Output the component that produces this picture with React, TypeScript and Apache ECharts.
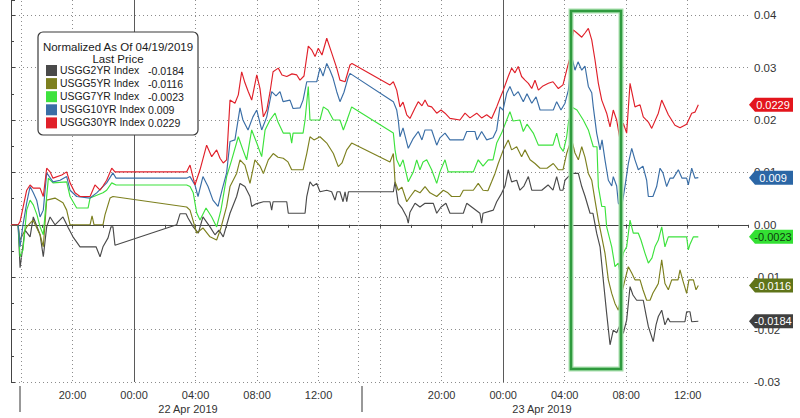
import React, { useEffect, useRef } from "react";
import * as echarts from "echarts";

// x values: session hours counted from 21 Apr 2019 16:00 (Bloomberg intraday axis)
const X_MAX = 47.92;
const seriesNames = ["USGG2YR Index", "USGG5YR Index", "USGG7YR Index", "USGG10YR Index", "USGG30YR Index"];
const lastValues = [-0.0184, -0.0116, -0.0023, 0.009, 0.0229];
const lastLabels = ["-0.0184", "-0.0116", "-0.0023", "0.009", "0.0229"];
const lineColors = ["#4a4a4a", "#7d801f", "#3de23d", "#3a6ea6", "#e0202a"];
const tagColors = ["#3f3f3f", "#5f7419", "#33e033", "#2b66a5", "#e3151c"];
const tagTextColors = ["#ffffff", "#ffffff", "#0f3a0f", "#ffffff", "#ffffff"];
const timeTickLabels = ["", "20:00", "00:00", "04:00", "08:00", "12:00", "", "20:00", "00:00", "04:00", "08:00", "12:00"];
const dateLabels = ["22 Apr 2019", "23 Apr 2019"];
const dayStartHours = [8, 32];
const sessionBreakHours = [0.65, 22.56];

const usgg2yr: [number, number][] = [
  [0, 0], [0.46, 0], [0.59, -0.0082], [0.91, -0.001], [1.24, -0.0023], [1.45, 0.0015], [1.89, -0.0019],
  [2.1, -0.0061], [2.32, -0.0004], [2.54, 0.0015], [2.86, 0], [3.38, 0.0015], [3.73, -0.0006], [4.03, -0.0023],
  [4.49, -0.0042], [5.53, -0.0042], [5.79, -0.0061], [5.98, -0.0042], [6.31, -0.0025], [6.5, -0.0004],
  [6.63, -0.0004], [6.76, -0.0039], [10.77, 0], [10.99, 0.0021], [11.38, 0.0021], [11.51, 0.0013],
  [11.85, -0.0004], [12.18, -0.0016], [12.48, 0.0015], [12.94, -0.0004], [13.26, -0.0019], [13.52, -0.001],
  [13.8, -0.0023], [14.24, 0.0022], [14.67, 0.0054], [14.89, 0.0079], [15.21, 0.0073], [15.54, 0.0054],
  [15.65, 0.0035], [15.93, 0.004], [16.41, 0.0044], [16.84, 0.0044], [16.95, 0.0028], [17.04, 0.0044],
  [17.93, 0.0044], [18.03, 0.0022], [19.12, 0.0022], [19.23, 0.0054], [19.44, 0.0082], [19.64, 0.0074],
  [19.88, 0.0079], [20.09, 0.0063], [20.53, 0.0066], [20.85, 0.0063], [21.07, 0.0047], [21.2, 0.0063],
  [21.39, 0.0063], [21.59, 0.0044], [21.72, 0.0063], [21.83, 0.0044], [21.94, 0.0063], [24.86, 0.0063],
  [24.97, 0.0082], [25.18, 0.0041], [25.42, 0.0032], [25.73, 0.0015], [25.83, 0.0003], [25.94, 0.0024],
  [26.27, 0.0041], [26.59, 0.0034], [26.92, 0.0041], [27.46, 0.0041], [27.68, 0.0022], [27.96, 0.0034],
  [28.28, 0.0041], [28.54, 0.0022], [29.41, 0.0022], [29.63, 0.0041], [30.04, 0.0032], [30.49, 0.0022],
  [30.6, 0.0003], [30.69, 0.0022], [31.36, 0.0028], [31.58, 0.0044], [31.9, 0.006], [32.12, 0.0074],
  [32.33, 0.0105], [32.55, 0.0082], [32.88, 0.0085], [33.09, 0.0066], [33.35, 0.0074], [33.64, 0.0092],
  [33.86, 0.0066], [34.51, 0.0066], [34.92, 0.0076], [35.24, 0.0066], [35.48, 0.0092], [35.7, 0.0066],
  [35.89, 0.0066], [36.02, 0.0085], [36.24, 0.0092], [36.46, 0.0098], [36.89, 0.0098], [37.11, 0.0073],
  [37.32, 0.0055], [37.65, 0.0022], [37.84, 0.0022], [38.08, -0.0016], [38.3, -0.0042], [38.51, -0.0105],
  [38.73, -0.0169], [38.95, -0.0229], [39.16, -0.0201], [39.38, -0.0206], [39.6, -0.0191], [39.81, -0.0207],
  [40.03, -0.0182], [40.25, -0.0118], [40.44, -0.0134], [40.68, -0.0144], [41.11, -0.0144], [41.29, -0.0172],
  [41.44, -0.0194], [41.76, -0.0223], [41.94, -0.0191], [42.09, -0.0175], [42.31, -0.0163], [42.52, -0.0191],
  [42.72, -0.0178], [42.85, -0.0185], [43.82, -0.0185], [43.93, -0.0166], [44.15, -0.0166], [44.26, -0.0185],
  [44.69, -0.0184],
];

const usgg5yr: [number, number][] = [
  [0, 0], [0.46, 0], [0.59, -0.0029], [1.02, -0.0004], [1.43, 0.0009], [1.89, -0.0019], [2.1, -0.0042],
  [2.32, 0.0047], [2.86, 0.0051], [3.38, 0.0042], [3.62, 0.0028], [3.84, 0], [5.14, 0], [5.27, 0.0017],
  [5.4, 0], [5.98, 0], [6.11, 0.0019], [6.44, 0.0051], [6.63, 0.0054], [11.42, 0.0034], [11.64, 0.0028],
  [11.83, 0.0009], [12.07, -0.0016], [12.48, -0.0006], [12.94, -0.0023], [13.37, -0.0029], [13.65, -0.0006],
  [14.02, 0.0035], [14.24, 0.0073], [14.67, 0.0098], [14.89, 0.0124], [15.21, 0.0114], [15.54, 0.0079],
  [15.86, 0.0124], [16.19, 0.0112], [16.41, 0.0098], [16.73, 0.0124], [17.05, 0.0136], [17.36, 0.0129],
  [17.7, 0.0127], [18.01, 0.012], [18.25, 0.0105], [18.99, 0.0105], [19.23, 0.0136], [19.44, 0.0168],
  [19.7, 0.0162], [20.09, 0.0168], [20.53, 0.0156], [20.96, 0.0136], [21.28, 0.0111], [21.52, 0.0118],
  [21.83, 0.0143], [22.15, 0.0156], [24.64, 0.012], [24.86, 0.0136], [24.97, 0.0082], [25.18, 0.0066],
  [25.42, 0.0072], [25.73, 0.0044], [25.94, 0.0053], [26.27, 0.0066], [26.59, 0.0061], [26.92, 0.0073],
  [27.24, 0.0061], [27.68, 0.0054], [28.11, 0.0066], [28.41, 0.0061], [28.65, 0.0054], [29.19, 0.0054],
  [29.41, 0.0066], [30.06, 0.0066], [30.38, 0.0079], [30.69, 0.0066], [31.01, 0.0065], [31.25, 0.0082],
  [31.47, 0.0098], [31.68, 0.0117], [32.01, 0.0143], [32.33, 0.0162], [32.55, 0.0143], [32.88, 0.0149],
  [33.2, 0.013], [33.42, 0.0143], [33.75, 0.0124], [34.07, 0.0117], [34.4, 0.0108], [34.85, 0.0108],
  [35.26, 0.0117], [35.59, 0.0105], [35.89, 0.0105], [36.13, 0.0136], [36.35, 0.0156], [36.46, 0.0162],
  [36.67, 0.0137], [36.89, 0.0124], [37.11, 0.0149], [37.32, 0.0129], [37.54, 0.0098], [37.76, 0.0085],
  [37.97, 0.0047], [38.19, 0.0009], [38.41, -0.0023], [38.62, -0.0054], [38.84, -0.0105], [39.06, -0.0131],
  [39.27, -0.015], [39.49, -0.0163], [39.71, -0.0131], [39.92, -0.0105], [40.14, -0.008], [40.36, -0.0092],
  [40.57, -0.0105], [40.9, -0.0105], [41.09, -0.0124], [41.33, -0.0144], [41.55, -0.0144], [41.74, -0.013],
  [41.98, -0.0118], [42.09, -0.0112], [42.31, -0.0067], [42.52, -0.0112], [42.74, -0.0124], [42.96, -0.0105],
  [43.37, -0.0105], [43.5, -0.0086], [43.69, -0.0107], [43.93, -0.0131], [44.08, -0.0105], [44.37, -0.0105],
  [44.54, -0.0124], [44.69, -0.0116],
];

const usgg7yr: [number, number][] = [
  [0, 0], [0.46, 0], [0.59, -0.0061], [0.78, -0.0048], [1.02, 0.0028], [1.24, 0.0047], [1.45, 0.0038],
  [1.69, 0.0019], [1.89, -0.0004], [2.1, -0.0019], [2.21, 0.0019], [2.43, 0.0089], [2.73, 0.008],
  [3.62, 0.0082], [3.84, 0.0054], [4.27, 0.0032], [5.01, 0.0032], [5.14, 0.0051], [5.98, 0.0061],
  [6.22, 0.0066], [6.55, 0.008], [6.83, 0.0076], [11.42, 0.0076], [11.64, 0.0073], [11.85, 0.0061],
  [12.07, 0.0023], [12.29, 0.0009], [12.68, 0.0032], [13.05, 0.0015], [13.37, -0.0004], [13.65, 0.0028],
  [14.02, 0.0092], [14.35, 0.0124], [14.78, 0.0168], [15.08, 0.0143], [15.32, 0.0124], [15.65, 0.0181],
  [15.98, 0.0156], [16.3, 0.013], [16.52, 0.0181], [16.84, 0.02], [17.17, 0.0213], [17.36, 0.0196],
  [17.7, 0.0175], [18.14, 0.0175], [18.25, 0.0156], [18.34, 0.0175], [18.99, 0.0175], [19.12, 0.02],
  [19.33, 0.0264], [19.44, 0.02], [20.09, 0.02], [20.31, 0.0225], [20.61, 0.0219], [20.96, 0.02],
  [21.39, 0.02], [21.61, 0.0181], [21.85, 0.02], [22.15, 0.0225], [24.86, 0.0175], [24.97, 0.0143],
  [25.08, 0.0124], [25.29, 0.0111], [25.49, 0.0124], [25.83, 0.0082], [26.16, 0.0101], [26.38, 0.0124],
  [26.59, 0.0105], [26.79, 0.012], [27.03, 0.0124], [27.35, 0.0105], [27.68, 0.0079], [27.89, 0.0101],
  [28.22, 0.0124], [28.43, 0.0101], [30.06, 0.0101], [30.38, 0.0124], [30.69, 0.0112], [31.03, 0.0124],
  [31.34, 0.0124], [31.58, 0.0156], [31.9, 0.0175], [32.23, 0.02], [32.44, 0.0216], [32.64, 0.0198],
  [33.09, 0.02], [33.31, 0.0178], [33.55, 0.0192], [33.96, 0.0175], [34.29, 0.0152], [35.24, 0.0152],
  [35.48, 0.0175], [35.7, 0.0149], [35.91, 0.014], [36.13, 0.0168], [36.24, 0.0194], [36.46, 0.0225],
  [36.8, 0.0219], [37.21, 0.02], [37.54, 0.0181], [37.86, 0.0149], [38.1, 0.0149], [38.19, 0.0073],
  [38.41, 0.0035], [38.62, 0.0035], [38.73, -0.0004], [39.06, -0.0042], [39.27, -0.008], [39.49, -0.0073],
  [39.6, -0.0093], [39.81, -0.0054], [40.03, -0.0042], [40.25, 0.0009], [40.46, -0.0016], [40.79, -0.0016],
  [40.96, -0.0029], [41.22, -0.0054], [41.44, -0.0073], [41.68, -0.0063], [41.87, -0.0042], [42.09, -0.0029],
  [42.31, -0.0004], [42.52, -0.0042], [42.74, -0.0023], [43.93, -0.0023], [44.04, -0.0048], [44.15, -0.0037],
  [44.37, -0.0023], [44.69, -0.0023],
];

const usgg10yr: [number, number][] = [
  [0, 0], [0.46, 0], [0.59, -0.0042], [0.78, 0], [1.02, 0.0042], [1.24, 0.0073], [1.45, 0.0061],
  [1.67, 0.0047], [1.89, 0.0015], [2.1, 0.0028], [2.32, 0.0099], [2.73, 0.0082], [3.19, 0.0085],
  [3.62, 0.0092], [3.84, 0.0066], [4.27, 0.0054], [5.14, 0.0051], [5.57, 0.0061], [6.22, 0.008],
  [6.63, 0.0099], [6.83, 0.0089], [11.42, 0.0089], [11.64, 0.0092], [11.96, 0.0076], [12.16, 0.0054],
  [12.48, 0.0092], [12.81, 0.0073], [13.13, 0.0047], [13.46, 0.0035], [13.72, 0.0066], [14.02, 0.0099],
  [14.24, 0.0159], [14.56, 0.0162], [14.89, 0.0223], [15.08, 0.02], [15.41, 0.0181], [15.73, 0.0206],
  [15.98, 0.0219], [16.3, 0.0181], [16.63, 0.0206], [16.95, 0.0254], [17.23, 0.0246], [17.49, 0.0254],
  [17.69, 0.0235], [18.14, 0.0238], [18.34, 0.0222], [18.79, 0.0223], [18.99, 0.0238], [19.23, 0.0273],
  [19.88, 0.0273], [20.09, 0.0299], [20.29, 0.0284], [20.53, 0.0308], [20.74, 0.0295], [20.94, 0.028],
  [21.18, 0.0254], [21.39, 0.0235], [21.65, 0.0253], [21.91, 0.028], [22.04, 0.0289], [24.86, 0.0235],
  [25.08, 0.0219], [25.18, 0.02], [25.29, 0.0168], [25.49, 0.0185], [25.83, 0.0146], [26.16, 0.0165],
  [26.48, 0.0178], [26.72, 0.0162], [26.92, 0.0181], [27.35, 0.0181], [27.68, 0.0152], [27.89, 0.0166],
  [28.22, 0.0175], [28.54, 0.0162], [29.41, 0.0162], [29.63, 0.0178], [30.17, 0.0178], [30.3, 0.0162],
  [30.6, 0.0178], [30.93, 0.0162], [31.34, 0.0166], [31.58, 0.0181], [31.79, 0.0225], [31.99, 0.0219],
  [32.23, 0.0251], [32.44, 0.0264], [32.7, 0.0246], [32.98, 0.0254], [33.31, 0.0235], [33.55, 0.025],
  [33.86, 0.0232], [34.14, 0.0244], [34.4, 0.0219], [35.26, 0.0219], [35.48, 0.0235], [35.76, 0.0219],
  [36.02, 0.0232], [36.24, 0.0257], [36.46, 0.0321], [36.67, 0.0295], [36.87, 0.0311], [37.11, 0.0295],
  [37.32, 0.0303], [37.54, 0.0264], [37.76, 0.0252], [37.86, 0.0225], [38.08, 0.0175], [38.3, 0.0143],
  [38.43, 0.0162], [38.62, 0.0124], [38.84, 0.0085], [39.06, 0.0074], [39.16, 0.0092], [39.38, 0.0074],
  [39.49, 0.0041], [39.71, 0.0035], [39.92, 0.0073], [40.14, 0.0117], [40.36, 0.0146], [40.57, 0.0124],
  [40.79, 0.0105], [41.09, 0.0112], [41.33, 0.0085], [41.44, 0.0054], [41.74, 0.0054], [41.98, 0.0073],
  [42.2, 0.0108], [42.39, 0.0099], [42.63, 0.0073], [42.85, 0.0089], [43.06, 0.0089], [43.39, 0.0105],
  [43.63, 0.0089], [43.93, 0.0089], [44.04, 0.0076], [44.26, 0.0108], [44.47, 0.0089], [44.69, 0.009],
];

const usgg30yr: [number, number][] = [
  [0, 0], [0.46, 0], [0.59, 0.0006], [1.02, 0.0066], [1.24, 0.0076], [1.45, 0.007], [1.89, 0.007],
  [2.1, 0.0054], [2.32, 0.0108], [2.54, 0.0101], [2.73, 0.0089], [3.3, 0.0095], [3.62, 0.0101],
  [3.84, 0.008], [4.16, 0.0061], [4.49, 0.0054], [5.14, 0.0054], [5.46, 0.0076], [5.79, 0.0066],
  [5.98, 0.0074], [6.22, 0.0085], [6.55, 0.0108], [6.76, 0.0101], [11.42, 0.0101], [11.64, 0.0114],
  [11.96, 0.0076], [12.29, 0.0105], [12.72, 0.0152], [13.05, 0.013], [13.37, 0.0143], [13.59, 0.0127],
  [13.8, 0.0118], [14.02, 0.0124], [14.24, 0.0238], [14.56, 0.0232], [14.78, 0.0248], [15.0, 0.0292],
  [15.21, 0.0271], [15.43, 0.0254], [15.65, 0.0238], [15.98, 0.0286], [16.19, 0.026], [16.41, 0.0206],
  [16.63, 0.0219], [16.84, 0.0253], [17.04, 0.0292], [17.38, 0.0299], [17.62, 0.0286], [17.93, 0.0283],
  [18.27, 0.0288], [18.58, 0.0286], [18.79, 0.0276], [19.05, 0.0284], [19.33, 0.0341], [19.55, 0.0334],
  [19.77, 0.0321], [19.98, 0.0337], [20.22, 0.0324], [20.53, 0.0356], [20.85, 0.0328], [21.18, 0.0299],
  [21.39, 0.0276], [21.72, 0.0273], [22.04, 0.0305], [22.17, 0.0308], [24.64, 0.0267], [24.86, 0.0273],
  [25.08, 0.0257], [25.29, 0.0225], [25.49, 0.0234], [25.73, 0.021], [25.94, 0.0203], [26.27, 0.0223],
  [26.48, 0.0235], [26.72, 0.0227], [26.92, 0.0238], [27.11, 0.0227], [27.35, 0.0225], [27.68, 0.0213],
  [27.96, 0.0219], [28.22, 0.0213], [28.54, 0.0203], [29.19, 0.02], [29.52, 0.0213], [29.84, 0.0204],
  [30.28, 0.0213], [30.6, 0.0204], [30.93, 0.021], [31.25, 0.0203], [31.58, 0.0225], [31.79, 0.0241],
  [32.01, 0.0257], [32.33, 0.0283], [32.55, 0.0299], [32.77, 0.029], [32.98, 0.0302], [33.2, 0.0283],
  [33.42, 0.0276], [33.64, 0.027], [33.86, 0.026], [34.07, 0.0276], [34.29, 0.0257], [34.59, 0.0265],
  [34.94, 0.027], [35.24, 0.0273], [35.59, 0.026], [35.89, 0.0267], [36.13, 0.0295], [36.35, 0.032],
  [36.56, 0.0372], [36.8, 0.0366], [37.11, 0.0358], [37.32, 0.0366], [37.54, 0.0375], [37.76, 0.0353],
  [37.97, 0.0315], [38.19, 0.027], [38.41, 0.0238], [38.73, 0.0213], [38.95, 0.0187], [39.16, 0.0219],
  [39.38, 0.02], [39.6, 0.0162], [39.81, 0.0194], [40.03, 0.0175], [40.25, 0.027], [40.57, 0.0225],
  [40.9, 0.0229], [41.11, 0.0206], [41.44, 0.0196], [41.66, 0.0184], [42.09, 0.0213], [42.31, 0.0238],
  [42.74, 0.021], [43.17, 0.019], [43.5, 0.0185], [43.93, 0.0192], [44.26, 0.0213], [44.47, 0.0215],
  [44.69, 0.0229],
];

const seriesData = [usgg2yr, usgg5yr, usgg7yr, usgg10yr, usgg30yr];

const FONT = "Liberation Sans, Arial, sans-serif";
const gridDots = { color: "#8c8c8c", width: 1, type: [1, 3] as any };

function buildOption(): any {
  const series = seriesNames.map((name, i) => {
    const s: any = {
      name,
      type: "line",
      data: seriesData[i],
      showSymbol: false,
      symbol: "none",
      color: lineColors[i],
      lineStyle: { width: 1.15, color: lineColors[i] },
      emphasis: { disabled: true },
      z: 2 + i,
      markPoint: {
        silent: true,
        animation: false,
        symbol: "path://M0,6.5 L6,0 L44,0 L44,13 L6,13 Z",
        symbolSize: [44, 14],
        symbolKeepAspect: false,
        symbolOffset: [23, 0],
        itemStyle: { color: tagColors[i] },
        label: {
          show: true,
          position: "inside",
          offset: [2, 0],
          color: tagTextColors[i],
          fontSize: 11,
          fontFamily: FONT,
          formatter: () => lastLabels[i],
        },
        data: [{ coord: [X_MAX, lastValues[i]] }],
      },
    };
    if (i === 0) {
      s.markLine = {
        silent: true,
        animation: false,
        symbol: ["none", "none"],
        label: { show: false },
        data: [
          ...dayStartHours.map((h) => ({ xAxis: h, lineStyle: { type: "solid", color: "#5a5a5a", width: 1 } })),
          ...sessionBreakHours.map((h) => ({ xAxis: h, lineStyle: { ...gridDots } })),
        ],
      };
    }
    return s;
  });

  const legendCommon = {
    show: true,
    orient: "vertical",
    top: 65,
    padding: 0,
    z: 12,
    itemHeight: 11,
    itemGap: 2.1,
    selectedMode: false,
    data: seriesNames,
  };

  return {
    animation: false,
    backgroundColor: "#ffffff",
    textStyle: { fontFamily: FONT },
    grid: { left: 11, right: 52, top: 0, bottom: 36, containLabel: false },
    xAxis: {
      type: "value",
      min: 0,
      max: X_MAX,
      interval: 4,
      offset: 3,
      axisLine: { show: true, lineStyle: { color: "#444", width: 1 } },
      axisTick: { show: true, length: 3, lineStyle: { color: "#444" } },
      minorTick: { show: true, splitNumber: 2, length: 3, lineStyle: { color: "#444" } },
      axisLabel: {
        color: "#333",
        fontSize: 11,
        margin: 4,
        showMaxLabel: false,
        formatter: (v: number) => {
          const k = Math.round(v / 4);
          if (Math.abs(v - k * 4) > 1e-6) return "";
          return timeTickLabels[k] ?? "";
        },
      },
      splitLine: { show: true, showMaxLine: false, lineStyle: gridDots },
    },
    yAxis: {
      type: "value",
      position: "right",
      min: -0.03,
      max: 0.0429,
      interval: 0.01,
      axisLine: { show: true, lineStyle: { color: "#444", width: 1 } },
      axisTick: { show: true, length: 4, lineStyle: { color: "#444" } },
      minorTick: { show: true, splitNumber: 2, length: 3, lineStyle: { color: "#444" } },
      axisLabel: {
        color: "#333",
        fontSize: 11.5,
        margin: 6,
        showMaxLabel: false,
        formatter: (v: number) => {
          if (Math.abs(v * 100 - Math.round(v * 100)) > 1e-6) return "";
          return v.toFixed(2);
        },
      },
      splitLine: { show: true, showMaxLine: false, lineStyle: gridDots },
    },
    legend: [
      {
        ...legendCommon,
        left: 46,
        itemWidth: 11,
        icon: "rect",
        textStyle: { color: "#1a1a1a", fontSize: 10.4, padding: [0, 0, 0, -2] },
      },
      {
        ...legendCommon,
        left: 143,
        itemWidth: 0,
        icon: "none",
        textStyle: { color: "#1a1a1a", fontSize: 10.6 },
        formatter: (name: string) => lastLabels[seriesNames.indexOf(name)],
      },
    ],
    graphic: [
      {
        type: "rect",
        z: 10,
        shape: { x: 38, y: 32, width: 160, height: 103, r: 5 },
        style: { fill: "#ffffff", stroke: "#3a3a3a", lineWidth: 1.2 },
      },
      {
        type: "text",
        z: 11,
        x: 118,
        y: 47,
        style: { text: "Normalized As Of 04/19/2019", fill: "#1a1a1a", font: `11.5px ${FONT}`, textAlign: "center", textVerticalAlign: "middle" },
      },
      {
        type: "text",
        z: 11,
        x: 118,
        y: 59,
        style: { text: "Last Price", fill: "#1a1a1a", font: `11.5px ${FONT}`, textAlign: "center", textVerticalAlign: "middle" },
      },
      {
        type: "rect",
        z: 9,
        shape: { x: 571, y: 11, width: 50, height: 358 },
        style: { fill: "rgba(0,0,0,0)", stroke: "#a9dfae", lineWidth: 5 },
      },
      {
        type: "rect",
        z: 9,
        shape: { x: 571, y: 11, width: 50, height: 358 },
        style: { fill: "rgba(0,0,0,0)", stroke: "#2f9a3e", lineWidth: 2.5 },
      },
      { type: "line", z: 5, shape: { x1: 20, y1: 386, x2: 20, y2: 412 }, style: { stroke: "#333", lineWidth: 1 } },
      { type: "line", z: 5, shape: { x1: 362, y1: 386, x2: 362, y2: 412 }, style: { stroke: "#333", lineWidth: 1 } },
      {
        type: "text",
        z: 5,
        x: 188,
        y: 409,
        style: { text: dateLabels[0], fill: "#333", font: `11px ${FONT}`, textAlign: "center", textVerticalAlign: "middle" },
      },
      {
        type: "text",
        z: 5,
        x: 542,
        y: 409,
        style: { text: dateLabels[1], fill: "#333", font: `11px ${FONT}`, textAlign: "center", textVerticalAlign: "middle" },
      },
    ],
    series,
  };
}

export default function App() {
  const ref = useRef<HTMLDivElement>(null);
  useEffect(() => {
    if (!ref.current) return;
    const chart = echarts.init(ref.current, null, { renderer: "svg" });
    chart.setOption(buildOption());
    return () => chart.dispose();
  }, []);
  return (
    <div
      ref={ref}
      style={{ position: "fixed", left: 0, top: 0, width: 800, height: 418, background: "#fff" }}
    />
  );
}
